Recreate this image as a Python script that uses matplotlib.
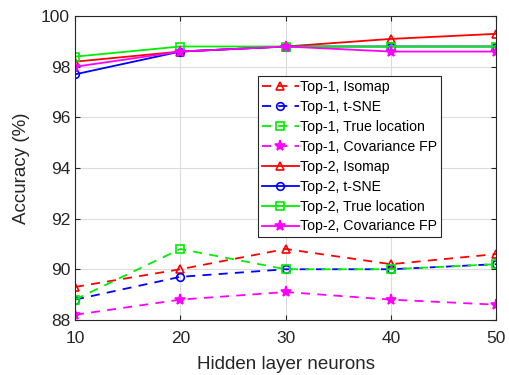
import numpy as np
import matplotlib
matplotlib.use('Agg')
import matplotlib.pyplot as plt

plt.rcParams['font.family'] = ['Liberation Sans', 'DejaVu Sans']

# data
neurons = [10, 20, 30, 40, 50]
top1_isomap = [89.3, 90.0, 90.8, 90.2, 90.6]
top1_tsne = [88.8, 89.7, 90.0, 90.0, 90.2]
top1_true = [88.8, 90.8, 90.0, 90.0, 90.2]
top1_cov = [88.2, 88.8, 89.1, 88.8, 88.6]
top2_isomap = [98.2, 98.6, 98.8, 99.1, 99.3]
top2_tsne = [97.7, 98.6, 98.8, 98.8, 98.8]
top2_true = [98.4, 98.8, 98.8, 98.8, 98.8]
top2_cov = [98.0, 98.6, 98.8, 98.6, 98.6]

fig = plt.figure(figsize=(5.1, 3.75), dpi=100)
ax = fig.add_axes([0.147, 0.147, 0.826, 0.81])

series = [
    (top1_isomap, '#ff0000', '^', '--', 'Top-1, Isomap'),
    (top1_tsne, '#0000ff', 'o', '--', 'Top-1, t-SNE'),
    (top1_true, '#00ee00', 's', '--', 'Top-1, True location'),
    (top1_cov, '#ff00ff', '*', '--', 'Top-1, Covariance FP'),
    (top2_isomap, '#ff0000', '^', '-', 'Top-2, Isomap'),
    (top2_tsne, '#0000ff', 'o', '-', 'Top-2, t-SNE'),
    (top2_true, '#00ee00', 's', '-', 'Top-2, True location'),
    (top2_cov, '#ff00ff', '*', '-', 'Top-2, Covariance FP'),
]
for vals, c, m, ls, lab in series:
    ms = 8 if m == '*' else 5.5
    ax.plot(neurons, vals, color=c, marker=m, linestyle=ls, label=lab,
            markerfacecolor=c if m == '*' else 'none', markeredgecolor=c,
            markersize=ms, linewidth=1.3, markeredgewidth=1.2,
            dashes=(5, 4) if ls == '--' else (None, None))

ax.set_xlim(10, 50)
ax.set_ylim(88, 100)
ax.set_xticks(neurons)
ax.set_yticks(np.arange(88, 101, 2))
ax.grid(True, color='#dcdcdc', linewidth=0.8)
ax.tick_params(direction='in', labelsize=12.5, colors='#262626', top=True, right=True)
ax.tick_params(axis='x', pad=8)
for s in ax.spines.values():
    s.set_color('#262626')
ax.set_xlabel('Hidden layer neurons', fontsize=13.5, color='#262626', labelpad=7)
ax.set_ylabel('Accuracy (%)', fontsize=13.5, color='#262626', labelpad=8)

leg = ax.legend(loc='upper left', bbox_to_anchor=(0.435, 0.802), fontsize=10.2,
                fancybox=False, edgecolor='#262626', framealpha=1,
                borderpad=0.25, labelspacing=0.42, handlelength=2.6, handletextpad=0.1,
                borderaxespad=0)
leg.get_frame().set_linewidth(0.8)

plt.savefig('out.png', dpi=100)
